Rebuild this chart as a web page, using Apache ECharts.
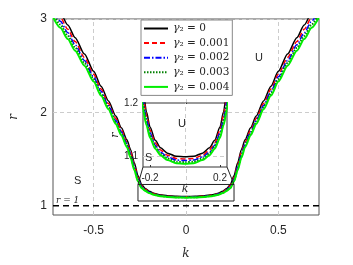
<!DOCTYPE html>
<html><head><meta charset="utf-8">
<script src="https://cdn.jsdelivr.net/npm/echarts@6/dist/echarts.min.js"></script>
<style>html,body{margin:0;padding:0;background:#fff}#c{width:353px;height:265px}</style>
</head><body><div id="c"></div>
<script>
const kVals = [-0.72,-0.68,-0.64,-0.6,-0.55,-0.5,-0.46,-0.42,-0.38,-0.35,-0.32,-0.3,-0.28,-0.26,-0.24,-0.22,-0.2,-0.17,-0.14,-0.1,-0.05,0,0.05,0.1,0.14,0.17,0.2,0.22,0.24,0.26,0.28,0.3,0.32,0.35,0.38,0.42,0.46,0.5,0.55,0.6,0.64,0.68,0.72];
const gammaLabels = ['0','0.001','0.002','0.003','0.004'];
const rGamma0 = [3.19,3.065,2.935,2.80,2.625,2.44,2.28,2.122,1.96,1.835,1.707,1.60,1.46,1.32,1.225,1.183,1.155,1.130,1.116,1.106,1.100,1.099,1.100,1.106,1.116,1.130,1.155,1.183,1.225,1.32,1.46,1.60,1.707,1.835,1.96,2.122,2.28,2.44,2.625,2.80,2.935,3.065,3.19];
const rGamma1 = [3.139,3.017,2.89,2.758,2.588,2.407,2.25,2.095,1.935,1.811,1.683,1.575,1.436,1.302,1.214,1.176,1.149,1.125,1.112,1.102,1.096,1.095,1.096,1.102,1.112,1.125,1.149,1.176,1.214,1.302,1.436,1.575,1.683,1.811,1.935,2.095,2.25,2.407,2.588,2.758,2.89,3.017,3.139];
const rGamma2 = [3.097,2.977,2.853,2.723,2.556,2.38,2.225,2.073,1.913,1.791,1.663,1.553,1.416,1.287,1.204,1.169,1.144,1.121,1.108,1.099,1.093,1.092,1.093,1.099,1.108,1.121,1.144,1.169,1.204,1.287,1.416,1.553,1.663,1.791,1.913,2.073,2.225,2.38,2.556,2.723,2.853,2.977,3.097];
const rGamma3 = [3.057,2.94,2.818,2.691,2.528,2.354,2.202,2.052,1.894,1.773,1.645,1.534,1.398,1.273,1.195,1.164,1.139,1.118,1.105,1.096,1.090,1.089,1.090,1.096,1.105,1.118,1.139,1.164,1.195,1.273,1.398,1.534,1.645,1.773,1.894,2.052,2.202,2.354,2.528,2.691,2.818,2.94,3.057];
const rGamma4 = [3.02,2.905,2.785,2.66,2.50,2.33,2.18,2.032,1.875,1.755,1.627,1.515,1.38,1.26,1.187,1.158,1.135,1.114,1.102,1.093,1.087,1.086,1.087,1.093,1.102,1.114,1.135,1.158,1.187,1.26,1.38,1.515,1.627,1.755,1.875,2.032,2.18,2.33,2.50,2.66,2.785,2.905,3.02];
const xTicks = [-0.5, 0, 0.5];
const yTicks = [1, 2, 3];
const insetXTicks = [-0.2, 0.2];
const insetXGrid = [0];
const insetYTicks = [1.1, 1.2];
const refLevel = 1;
const boxK = [-0.26, 0.26];
const boxR = [1.05, 1.227];

const rAll = [rGamma0, rGamma1, rGamma2, rGamma3, rGamma4];
const styles = [
  {color:'#000000', type:'solid', width:1.5},
  {color:'#ff0000', type:[5,3], width:1.5},
  {color:'#0000ff', type:[6,2,1.5,2], width:1.5},
  {color:'#008000', type:[1.5,1.5], width:2},
  {color:'#00ee00', type:'solid', width:2}
];
const names = gammaLabels.map(v => 'γ₂ = ' + v);
const sans = 'Liberation Sans';
const serif = 'DejaVu Serif';
const txt = '#262626';

function curve(i, g) {
  return {
    type:'line', name:names[i], xAxisIndex:g, yAxisIndex:g, zlevel:g, z:3,
    data:kVals.map((k,j)=>[k, rAll[i][j]]), symbol:'none', smooth:0.25, smoothMonotone:'x',
    lineStyle:Object.assign({}, styles[i]), itemStyle:{color:styles[i].color},
    clip:true, silent:true, animation:false
  };
}
const gridLineStyle = {type:[4,3], color:'#cccccc', width:1};

const series = [];
series.push({
  type:'line', xAxisIndex:0, yAxisIndex:0, z:2, symbol:'none', silent:true, animation:false,
  data:[[kVals[0], refLevel],[kVals[kVals.length-1], refLevel]],
  lineStyle:{color:'#000', type:[6,4], width:1.5},
  markLine:{silent:true, symbol:'none', z:1, animation:false, label:{show:false}, lineStyle:gridLineStyle,
    data:[...xTicks.map(v=>({xAxis:v})), ...yTicks.filter(v=>v>refLevel).map(v=>({yAxis:v}))]}
});
for (let i=0;i<5;i++) series.push(curve(i,0));
series.push({
  type:'line', xAxisIndex:0, yAxisIndex:0, z:4, symbol:'none', silent:true, animation:false,
  data:[[boxK[0],boxR[0]],[boxK[1],boxR[0]],[boxK[1],boxR[1]],[boxK[0],boxR[1]],[boxK[0],boxR[0]]],
  lineStyle:{color:'#222', width:1}
});
series.push({
  type:'line', xAxisIndex:1, yAxisIndex:1, zlevel:1, z:2, symbol:'none', silent:true, animation:false,
  data:[], markLine:{silent:true, symbol:'none', zlevel:1, z:1, animation:false, label:{show:false}, lineStyle:gridLineStyle,
    data:[...insetXGrid.map(v=>({xAxis:v})), {yAxis:insetYTicks[0]}]}
});
for (let i=0;i<5;i++) series.push(curve(i,1));

const chart = echarts.init(document.getElementById('c'), null, {renderer:'canvas'});
const option = {
  animation:false,
  backgroundColor:'#fff',
  grid:[
    {left:46, top:19, width:273, height:202, show:true, borderColor:'#555', borderWidth:1, backgroundColor:'transparent'},
    {left:143, top:103, width:84, height:64, show:true, borderColor:'#333', borderWidth:1, backgroundColor:'#fff', zlevel:1, z:0}
  ],
  xAxis:[
    {type:'value', gridIndex:0, min:-0.72, max:0.72,
     axisLine:{show:false}, splitLine:{show:false},
     axisTick:{show:true, inside:true, length:3, customValues:xTicks, lineStyle:{color:'#555'}},
     axisLabel:{customValues:xTicks, fontFamily:sans, fontSize:12, color:txt, margin:10},
     name:'k', nameLocation:'middle', nameGap:33,
     nameTextStyle:{fontFamily:serif, fontStyle:'italic', fontSize:12, color:txt}},
    {type:'value', gridIndex:1, min:-0.24, max:0.24, zlevel:1,
     axisLine:{show:false}, splitLine:{show:false},
     axisTick:{show:true, inside:true, length:2, customValues:insetXTicks, lineStyle:{color:'#333'}},
     axisLabel:{customValues:insetXTicks, fontFamily:sans, fontSize:10, color:txt, margin:6},
     name:'k', nameLocation:'middle', nameGap:13,
     nameTextStyle:{fontFamily:serif, fontStyle:'italic', fontSize:11, color:txt}}
  ],
  yAxis:[
    {type:'value', gridIndex:0, min:0.9, max:3,
     axisLine:{show:false}, splitLine:{show:false},
     axisTick:{show:true, inside:true, length:3, customValues:yTicks, lineStyle:{color:'#555'}},
     axisLabel:{customValues:yTicks, fontFamily:sans, fontSize:12, color:txt, margin:6},
     name:'r', nameLocation:'middle', nameGap:33, nameRotate:90,
     nameTextStyle:{fontFamily:serif, fontStyle:'italic', fontSize:12, color:txt}},
    {type:'value', gridIndex:1, min:1.08, max:1.2, zlevel:1,
     axisLine:{show:false}, splitLine:{show:false},
     axisTick:{show:true, inside:true, length:2, customValues:insetYTicks, lineStyle:{color:'#333'}},
     axisLabel:{customValues:insetYTicks, fontFamily:sans, fontSize:10, color:txt, margin:5},
     name:'r', nameLocation:'middle', nameGap:13, nameRotate:90,
     nameTextStyle:{fontFamily:serif, fontStyle:'italic', fontSize:11, color:txt}}
  ],
  legend:{
    data:names, orient:'vertical', left:141, top:20, padding:[3,3,3,2],
    itemWidth:24, itemHeight:13, itemGap:3.6, selectedMode:false,
    itemStyle:{opacity:0},
    backgroundColor:'#fff', borderColor:'#888', borderWidth:1, borderRadius:0,
    formatter:function(n){ const v = n.split('=')[1].trim(); return '{g|γ}{t|₂ = ' + v + '}'; },
    textStyle:{color:txt, rich:{
      g:{fontFamily:serif, fontStyle:'italic', fontSize:11, lineHeight:13, color:txt},
      t:{fontFamily:serif, fontSize:10.5, lineHeight:13, color:txt}}}
  },
  graphic:[
    {type:'text', left:255, top:52, style:{text:'U', font:'11px "Liberation Sans"', fill:txt}},
    {type:'text', left:74, top:175, style:{text:'S', font:'11px "Liberation Sans"', fill:txt}},
    {type:'text', left:56, top:196, style:{text:'r = 1', font:'italic 9px "DejaVu Serif"', fill:txt}},
    {type:'text', left:178, top:118, zlevel:1, z:10, style:{text:'U', font:'11px "Liberation Sans"', fill:txt}},
    {type:'text', left:145, top:152, zlevel:1, z:10, style:{text:'S', font:'11px "Liberation Sans"', fill:txt}}
  ],
  series:series
};
chart.setOption(option);
const tl = chart.convertToPixel({xAxisIndex:0, yAxisIndex:0}, [boxK[0], boxR[1]]);
const tr = chart.convertToPixel({xAxisIndex:0, yAxisIndex:0}, [boxK[1], boxR[1]]);
const ibl = chart.convertToPixel({xAxisIndex:1, yAxisIndex:1}, [-0.24, 1.08]);
const ibr = chart.convertToPixel({xAxisIndex:1, yAxisIndex:1}, [0.24, 1.08]);
option.graphic.push(
  {type:'line', z:5, shape:{x1:ibl[0], y1:ibl[1], x2:tl[0], y2:tl[1]}, style:{stroke:'#222', lineWidth:1}},
  {type:'line', z:5, shape:{x1:ibr[0], y1:ibr[1], x2:tr[0], y2:tr[1]}, style:{stroke:'#222', lineWidth:1}}
);
chart.setOption({graphic:option.graphic});
</script></body></html>
